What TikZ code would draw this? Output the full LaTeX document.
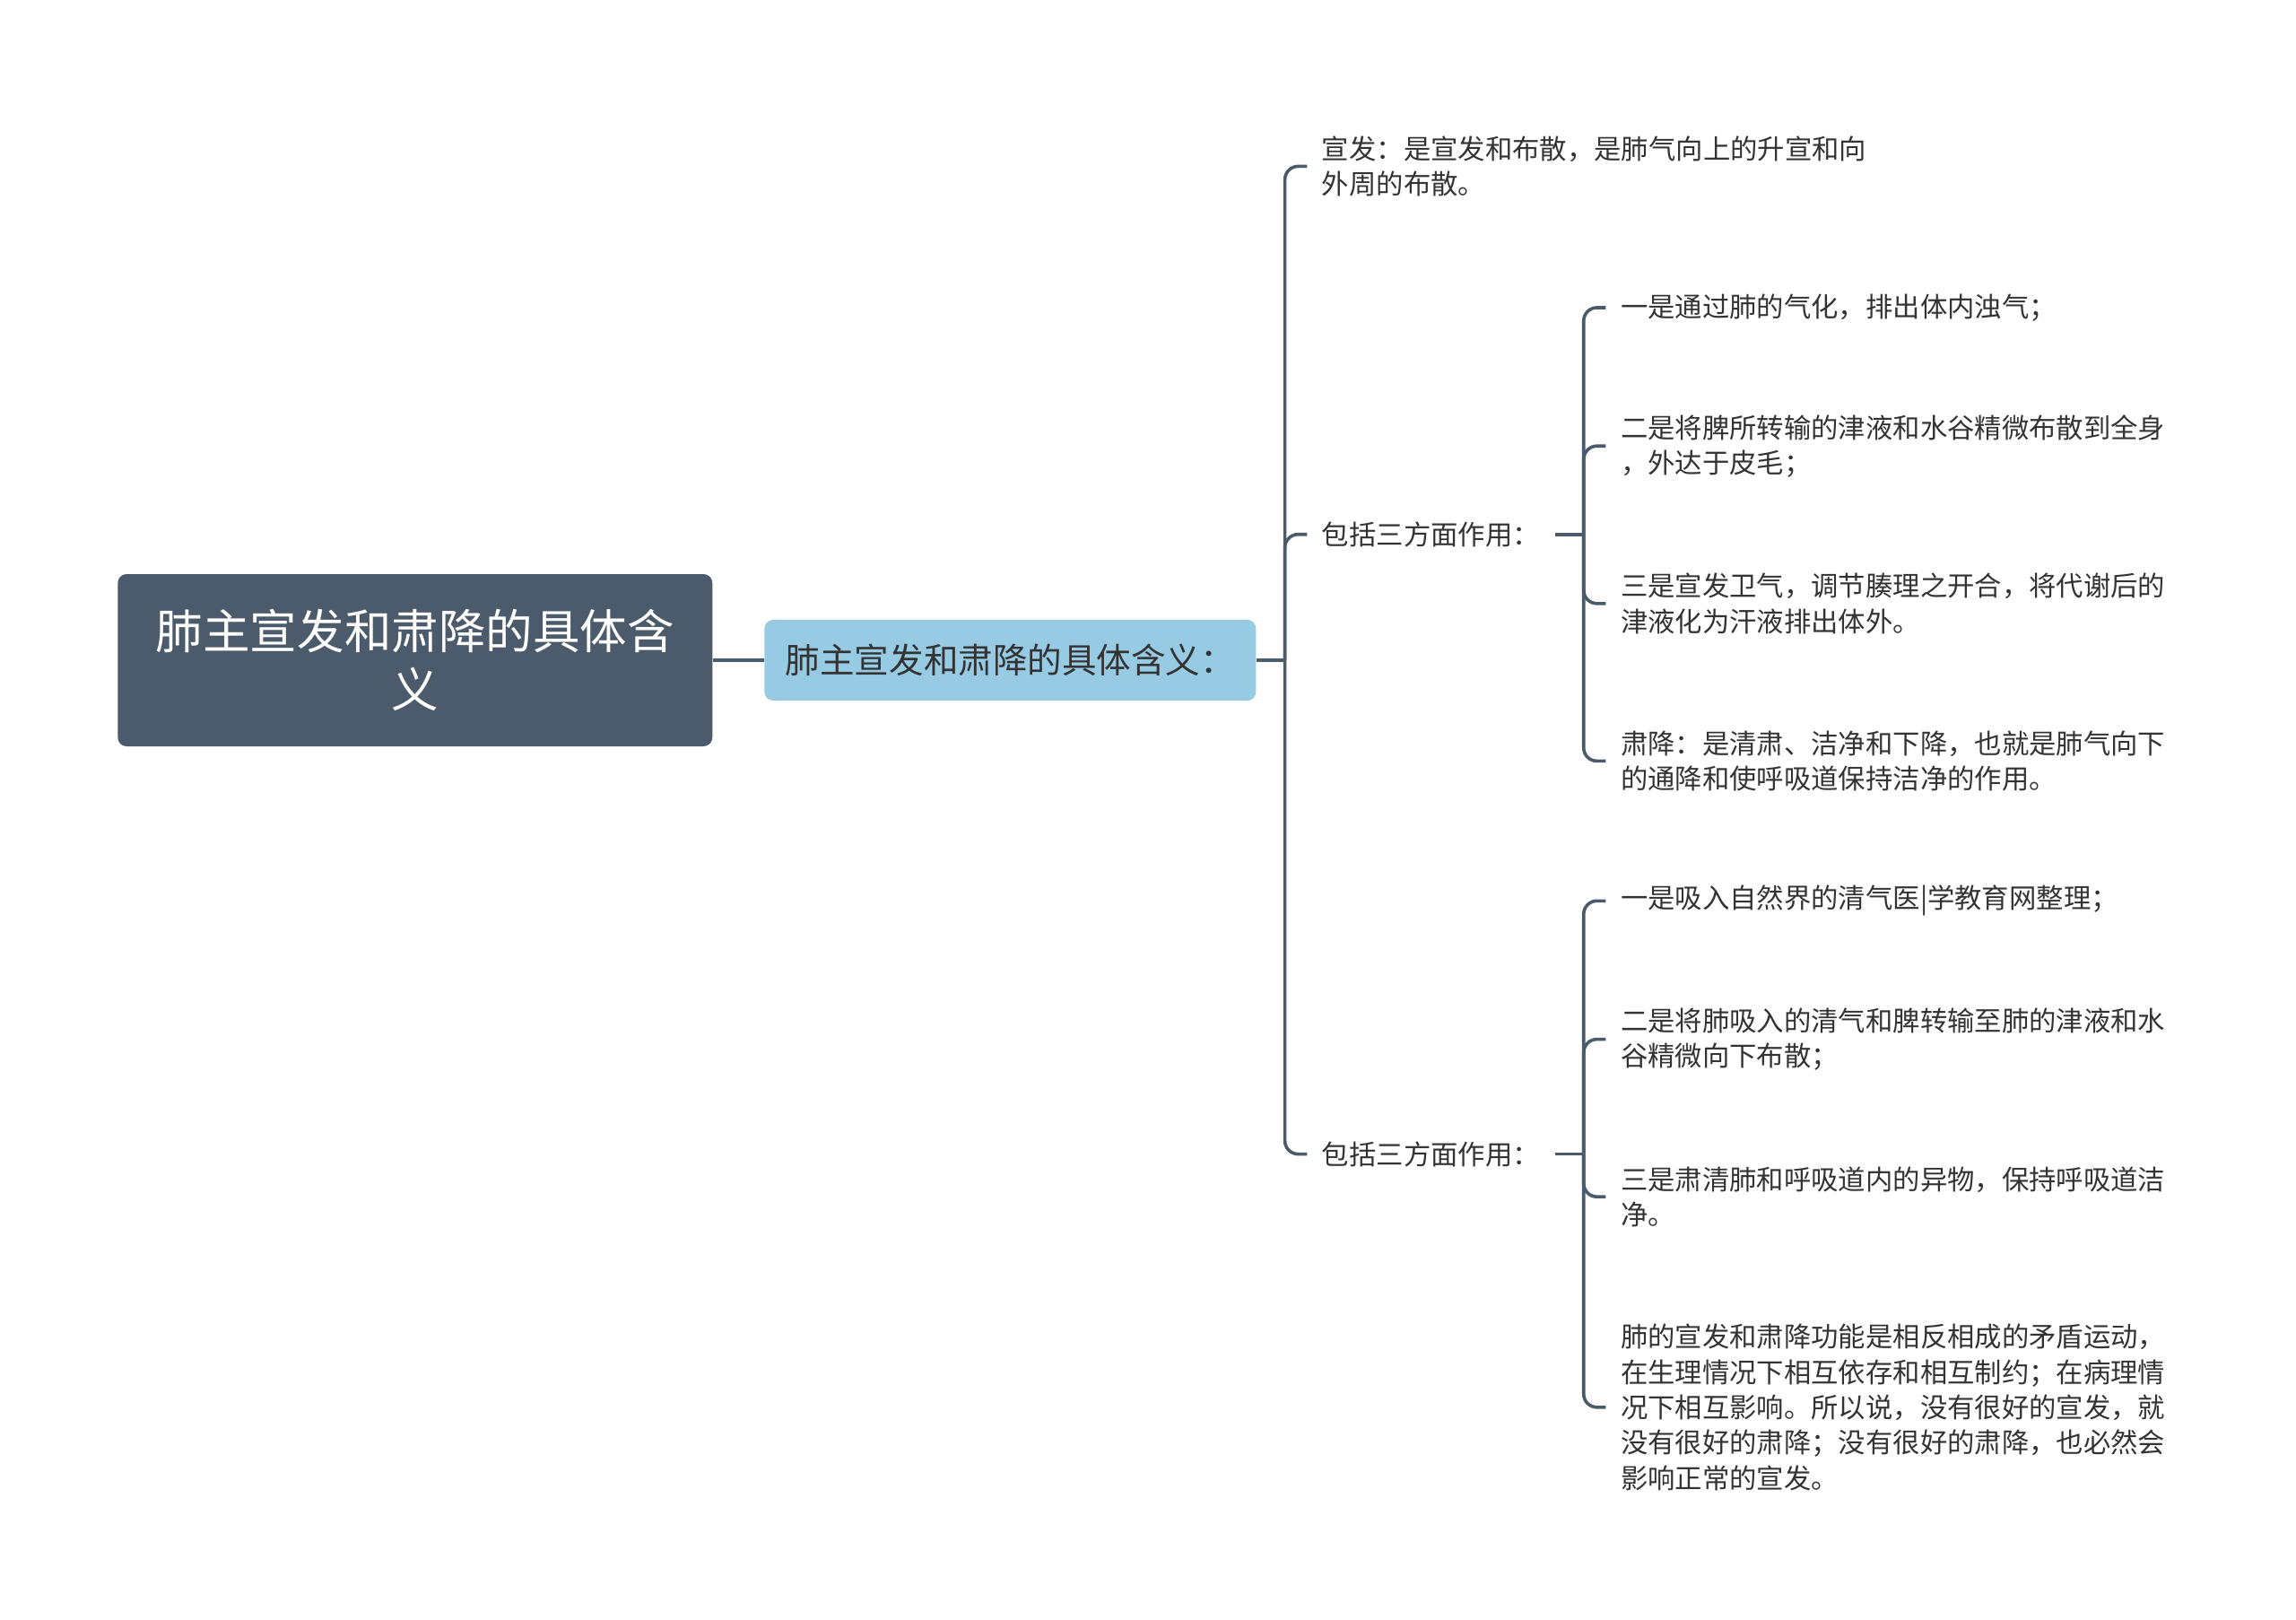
\documentclass[tikz,border=0pt]{standalone}
\usepackage{fontspec}
\setmainfont{Noto Sans CJK SC}
\usetikzlibrary{positioning}

\definecolor{slate}{HTML}{4B5B6B}
\definecolor{skyblue}{HTML}{96CBE3}
\definecolor{ink}{HTML}{333333}

\tikzset{
  rootbox/.style={rectangle, rounded corners=6pt, fill=slate, text=white, minimum width=404pt, minimum height=117pt, align=center, font=\fontsize{32pt}{40pt}\selectfont},
  midbox/.style={rectangle, rounded corners=6pt, fill=skyblue, text=ink, minimum width=334pt, minimum height=55pt, font=\fontsize{23.5pt}{28pt}\selectfont},
  leaf/.style={anchor=west, inner xsep=10pt, inner ysep=0pt, text=ink, align=left, font=\fontsize{18.5pt}{24pt}\selectfont},
  link/.style={draw=slate, line width=2.2pt, rounded corners=9pt},
}

\begin{document}
\begin{tikzpicture}[x=1pt, y=-1pt]
\useasboundingbox (0,0) rectangle (1560,1100);

\node[rootbox] (root) at (282,448.5) {肺主宣发和肃降的具体含\\义};
\node[midbox, right=35pt of root] (mid) {肺主宣发和肃降的具体含义：};

\node[leaf] (xuan) at (888,113) {宣发：是宣发和布散，是肺气向上的升宣和向\\外周的布散。};
\node[leaf] (bao1) at (888,363) {包括三方面作用：};
\node[leaf] (bao2) at (888,784) {包括三方面作用：};

\node[leaf] (s1) at (1091,209) {一是通过肺的气化，排出体内浊气；};
\node[leaf] (s2) at (1091,303) {二是将脾所转输的津液和水谷精微布散到全身\\，外达于皮毛；};
\node[leaf] (s3) at (1091,410) {三是宣发卫气，调节腠理之开合，将代谢后的\\津液化为汗液排出体外。};
\node[leaf] (s4) at (1091,517) {肃降：是清肃、洁净和下降，也就是肺气向下\\的通降和使呼吸道保持洁净的作用。};

\node[leaf] (t1) at (1091,612) {一是吸入自然界的清气医|学教育网整理；};
\node[leaf] (t2) at (1091,706) {二是将肺吸入的清气和脾转输至肺的津液和水\\谷精微向下布散；};
\node[leaf] (t3) at (1091,813) {三是肃清肺和呼吸道内的异物，保持呼吸道洁\\净。};
\node[leaf] (t4) at (1091,956) {肺的宣发和肃降功能是相反相成的矛盾运动，\\在生理情况下相互依存和相互制约；在病理情\\况下相互影响。所以说，没有很好的宣发，就\\没有很好的肃降；没有很好的肃降，也必然会\\影响正常的宣发。};

\coordinate (j1) at (873,448.5);
\coordinate (j2) at (1076,363);
\coordinate (j3) at (1076,784);

% links
\draw[link] (root) -- (mid);
\draw[link] (mid.east) -- (j1);
\foreach \n in {xuan,bao1,bao2}
  \draw[link] (j1) |- (\n.west);
\draw[link] (bao1.east) -- (j2);
\draw[link] (bao2.east) -- (j3);
\foreach \n in {s1,s2,s3,s4}
  \draw[link] (j2) |- (\n.west);
\foreach \n in {t1,t2,t3,t4}
  \draw[link] (j3) |- (\n.west);

\end{tikzpicture}
\end{document}
